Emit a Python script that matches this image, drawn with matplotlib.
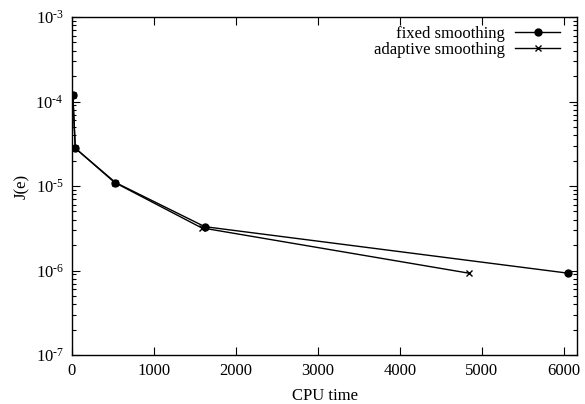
import matplotlib
matplotlib.use("Agg")
import matplotlib.pyplot as plt
from matplotlib.ticker import LogLocator, FixedLocator, NullFormatter, FuncFormatter
import math

plt.rcParams['font.family'] = ['Liberation Serif', 'DejaVu Serif']
plt.rcParams['mathtext.fontset'] = 'custom'
plt.rcParams['mathtext.rm'] = 'Liberation Serif'
plt.rcParams['mathtext.it'] = 'Liberation Serif:italic'

fixed_t = [10, 40, 530, 1620, 6050]
fixed_j = [1.2e-4, 2.8e-5, 1.1e-5, 3.3e-6, 9.3e-7]
adapt_t = [10, 40, 520, 1580, 4840]
adapt_j = [1.2e-4, 2.8e-5, 1.1e-5, 3.2e-6, 9.3e-7]
xticks = [0, 1000, 2000, 3000, 4000, 5000, 6000]

fig = plt.figure(figsize=(5.85, 4.04), dpi=100)
ax = fig.add_axes([72/585, 1-355/404, (577-72)/585, (355-17)/404])

ax.plot(fixed_t, fixed_j, color='black', lw=1, marker='o', ms=5, label='fixed smoothing')
ax.plot(adapt_t, adapt_j, color='black', lw=1, marker='x', ms=5, mew=1, label='adaptive smoothing')

ax.set_yscale('log')
ax.set_ylim(1e-7, 1e-3)
ax.set_xlim(0, 6160)
ax.xaxis.set_major_locator(FixedLocator(xticks))
ax.set_xticklabels([str(v) for v in xticks])
ax.yaxis.set_major_locator(LogLocator(base=10, numticks=10))
ax.yaxis.set_minor_locator(LogLocator(base=10, subs=range(2, 10), numticks=20))
ax.yaxis.set_minor_formatter(NullFormatter())

def fmt(v, pos):
    e = int(round(math.log10(v)))
    return r'$\mathrm{10}^{\text{%d}}$' % e
ax.yaxis.set_major_formatter(FuncFormatter(fmt))

ax.tick_params(which='both', direction='in', top=True, right=True, labelsize=12, pad=6)
ax.tick_params(which='major', length=6, width=0.8)
ax.tick_params(which='minor', length=3, width=0.8)
for s in ax.spines.values():
    s.set_linewidth(1)

ax.set_xlabel('CPU time', fontsize=12, labelpad=6)
ax.set_ylabel('J(e)', fontsize=12, labelpad=4)

ax.legend(loc='upper right', bbox_to_anchor=(567/585, 1-19/404),
          bbox_transform=fig.transFigure, borderaxespad=0,
          frameon=False, markerfirst=False, fontsize=12,
          handlelength=2.7, handletextpad=0.6, labelspacing=0.0)

fig.savefig('out.png', dpi=100)
